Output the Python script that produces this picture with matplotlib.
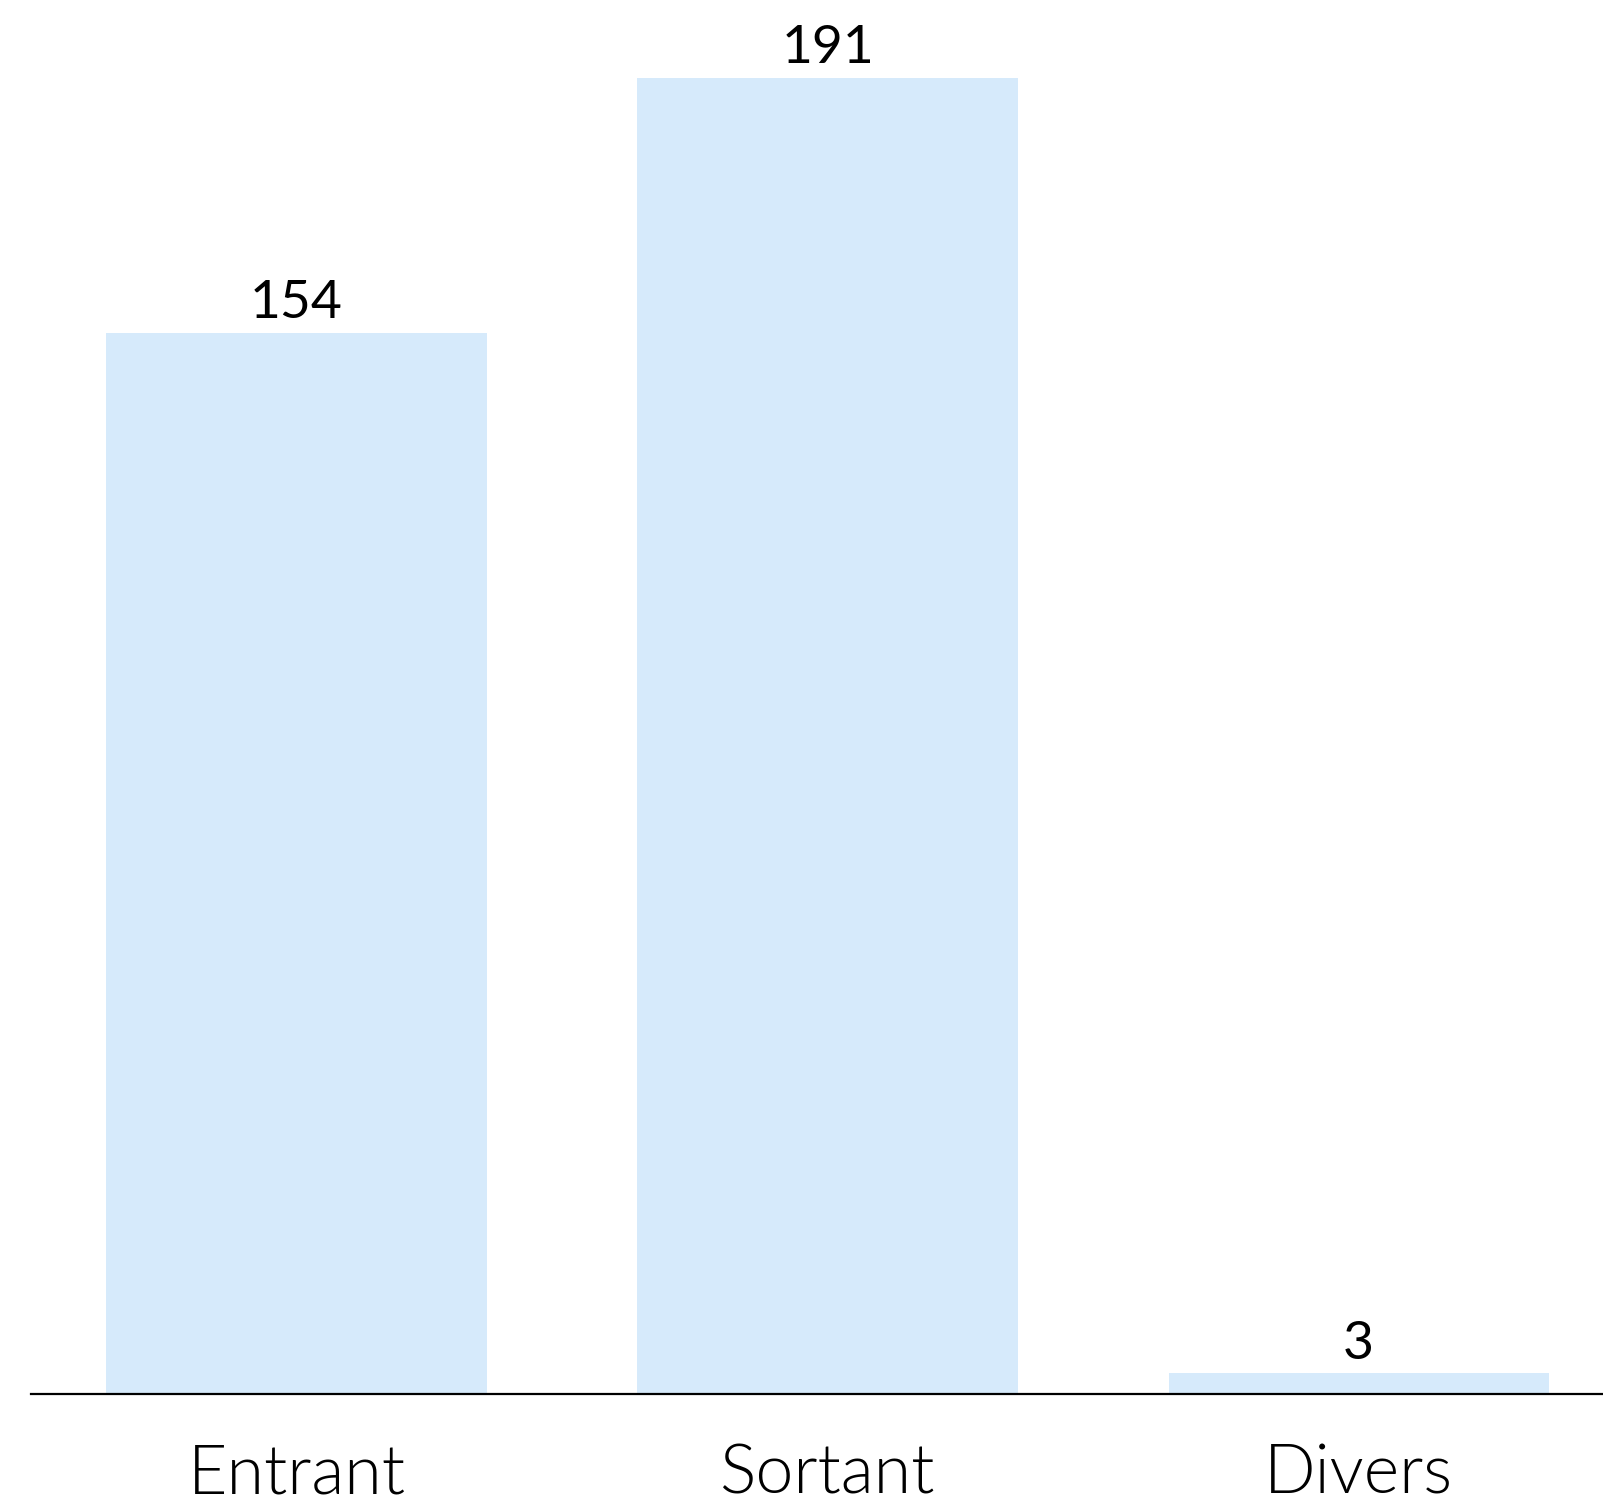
import matplotlib
matplotlib.use("Agg")
import matplotlib.pyplot as plt
import numpy as np

# data
categories = ["Entrant", "Sortant", "Divers"]
values = [154, 191, 3]

plt.rcParams['font.family'] = ['Lato', 'DejaVu Sans']

fig = plt.figure(figsize=(16.03, 15.04), dpi=100)
# axes: bottom line at y=1394px, left at x=31px, runs to the right edge
ax = fig.add_axes([31 / 1603, 1 - 1394 / 1504, 1 - 31 / 1603, 1394 / 1504])

x = np.arange(len(categories))
ax.bar(x, values, width=0.716, color='#d6eafb', zorder=1)

for xi, v in zip(x, values):
    ax.annotate(str(v), (xi, v), xytext=(0, 4), textcoords='offset points',
                ha='center', va='bottom', fontsize=38.5, color='#000000')

ax.set_xlim(-0.5, 2.46)
ax.set_ylim(0, 202.3)

ax.set_xticks(x)
# weight 300 -> Lato-Light ('light' maps to 200 = ExtraLight)
ax.set_xticklabels(categories, fontsize=49, fontweight=300, color='#000000')
ax.tick_params(axis='x', length=0, pad=36)
ax.set_yticks([])

for side in ['top', 'right', 'left']:
    ax.spines[side].set_visible(False)
ax.spines['bottom'].set_linewidth(1.6)
ax.spines['bottom'].set_color('#000000')
ax.spines['bottom'].set_zorder(3)

fig.savefig('out.png', dpi=100, facecolor='white')
